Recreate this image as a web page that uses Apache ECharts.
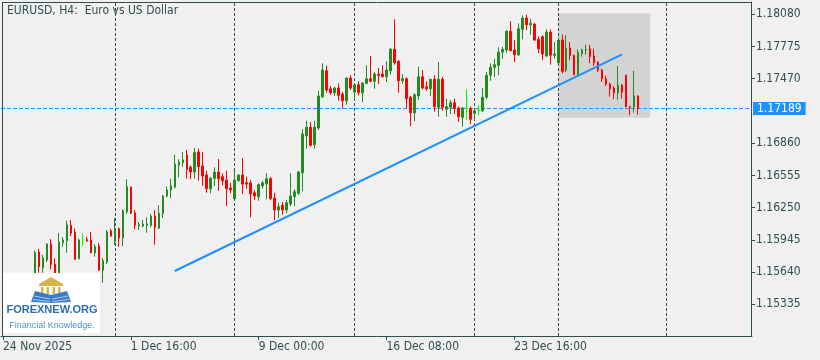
<!DOCTYPE html>
<html><head><meta charset="utf-8">
<script src="https://cdn.jsdelivr.net/npm/echarts@6/dist/echarts.min.js"></script>
<style>html,body{margin:0;padding:0;background:#f0f0f0}#c{width:820px;height:360px}</style>
</head><body><div id="c"></div>
<script>
// EURUSD H4 candles (one entry per bar, oldest first)
const openP = [
1.15224,1.15281,1.15376,1.15319,1.15451,1.15518,1.15461,1.15546,1.15565,1.15830,
1.15678,1.15754,1.15905,1.15716,1.15612,1.15917,1.15936,1.16083,1.16019,1.15767,
1.15943,1.15948,1.15943,1.15823,1.15886,1.15659,1.15735,1.16031,1.15927,1.16051,
1.15962,1.16211,1.16445,1.16201,1.16076,1.16076,1.16083,1.16083,1.16170,1.16057,
1.16196,1.16360,1.16417,1.16443,1.16651,1.16675,1.16746,1.16632,1.16587,1.16777,
1.16644,1.16559,1.16429,1.16527,1.16587,1.16543,1.16511,1.16436,1.16335,1.16504,
1.16559,1.16485,1.16485,1.16391,1.16354,1.16455,1.16473,1.16524,1.16341,1.16227,
1.16272,1.16227,1.16284,1.16354,1.16385,1.16580,1.16928,1.17011,1.16846,1.17004,
1.17300,1.17545,1.17375,1.17337,1.17382,1.17325,1.17262,1.17477,1.17344,1.17413,
1.17337,1.17427,1.17470,1.17446,1.17514,1.17514,1.17489,1.17545,1.17749,1.17635,
1.17451,1.17470,1.17295,1.17148,1.17307,1.17489,1.17394,1.17375,1.17465,1.17200,
1.17465,1.17181,1.17200,1.17243,1.17193,1.17104,1.17190,1.17190,1.17143,1.17174,
1.17167,1.17295,1.17503,1.17578,1.17597,1.17723,1.17742,1.17919,1.17742,1.17697,
1.17938,1.18045,1.17981,1.17988,1.17843,1.17868,1.17685,1.17912,1.17692,1.17621,
1.17836,1.17552,1.17761,1.17692,1.17514,1.17710,1.17742,1.17754,1.17685,1.17628,
1.17552,1.17470,1.17420,1.17382,1.17337,1.17408,1.17503,1.17206,1.17206,1.17307];
const highP = [
1.15300,1.15404,1.15414,1.15470,1.15546,1.15537,1.15574,1.15603,1.15842,1.15861,
1.15802,1.15912,1.15952,1.15770,1.16010,1.15971,1.16126,1.16133,1.16054,1.15955,
1.16007,1.15974,1.16019,1.15905,1.15912,1.15773,1.16038,1.16051,1.16151,1.16064,
1.16234,1.16518,1.16448,1.16227,1.16114,1.16133,1.16158,1.16189,1.16227,1.16272,
1.16367,1.16448,1.16523,1.16751,1.16708,1.16777,1.16796,1.16651,1.16815,1.16808,
1.16777,1.16599,1.16540,1.16632,1.16710,1.16575,1.16599,1.16485,1.16599,1.16562,
1.16720,1.16543,1.16511,1.16417,1.16480,1.16504,1.16575,1.16540,1.16391,1.16296,
1.16303,1.16322,1.16575,1.16424,1.16599,1.16992,1.17072,1.17060,1.17072,1.17356,
1.17616,1.17593,1.17401,1.17394,1.17427,1.17344,1.17484,1.17503,1.17427,1.17446,
1.17439,1.17597,1.17685,1.17533,1.17571,1.17597,1.17635,1.17761,1.18033,1.17647,
1.17514,1.17484,1.17307,1.17332,1.17584,1.17552,1.17446,1.17470,1.17503,1.17628,
1.17487,1.17281,1.17269,1.17281,1.17206,1.17200,1.17370,1.17206,1.17186,1.17219,
1.17382,1.17533,1.17616,1.17659,1.17767,1.17773,1.17931,1.18014,1.17836,1.17994,
1.18070,1.18076,1.18038,1.17994,1.17868,1.17881,1.17938,1.17938,1.17817,1.17862,
1.17887,1.17881,1.17817,1.17697,1.17749,1.17754,1.17792,1.17792,1.17754,1.17635,
1.17565,1.17496,1.17433,1.17401,1.17590,1.17420,1.17508,1.17212,1.17545,1.17312];
const lowP = [
1.15205,1.15262,1.15291,1.15300,1.15423,1.15432,1.15442,1.15508,1.15537,1.15633,
1.15633,1.15735,1.15666,1.15565,1.15584,1.15880,1.15823,1.15981,1.15754,1.15761,
1.15886,1.15924,1.15818,1.15786,1.15652,1.15537,1.15716,1.15974,1.15896,1.15880,
1.15886,1.16189,1.16189,1.16045,1.16038,1.16064,1.16012,1.16064,1.15898,1.16048,
1.16151,1.16348,1.16341,1.16433,1.16537,1.16637,1.16524,1.16518,1.16524,1.16504,
1.16455,1.16391,1.16385,1.16455,1.16410,1.16461,1.16265,1.16385,1.16329,1.16499,
1.16379,1.16429,1.16158,1.16322,1.16315,1.16429,1.16329,1.16322,1.16133,1.16151,
1.16183,1.16196,1.16265,1.16265,1.16372,1.16405,1.16808,1.16827,1.16808,1.16985,
1.17288,1.17337,1.17316,1.17307,1.17262,1.17186,1.17224,1.17363,1.17262,1.17313,
1.17250,1.17420,1.17439,1.17375,1.17420,1.17484,1.17439,1.17508,1.17603,1.17337,
1.17420,1.17193,1.17022,1.17067,1.17269,1.17370,1.17356,1.17307,1.17158,1.17110,
1.17167,1.17110,1.17136,1.17136,1.17060,1.17016,1.17079,1.17041,1.17079,1.17124,
1.17155,1.17276,1.17451,1.17484,1.17503,1.17659,1.17716,1.17729,1.17628,1.17685,
1.17843,1.17931,1.17887,1.17830,1.17711,1.17647,1.17679,1.17603,1.17660,1.17616,
1.17521,1.17533,1.17647,1.17503,1.17503,1.17679,1.17698,1.17616,1.17590,1.17533,
1.17439,1.17401,1.17300,1.17276,1.17269,1.17281,1.17200,1.17124,1.17148,1.17130];
const closeP = [
1.15281,1.15376,1.15319,1.15451,1.15518,1.15461,1.15546,1.15574,1.15823,1.15691,
1.15773,1.15905,1.15710,1.15603,1.15924,1.15943,1.16086,1.16007,1.15761,1.15943,
1.15943,1.15936,1.15823,1.15880,1.15659,1.15747,1.16019,1.15981,1.16045,1.15962,
1.16220,1.16448,1.16196,1.16083,1.16088,1.16095,1.16095,1.16170,1.16064,1.16196,
1.16360,1.16417,1.16455,1.16663,1.16682,1.16701,1.16613,1.16587,1.16770,1.16637,
1.16549,1.16429,1.16527,1.16587,1.16524,1.16504,1.16429,1.16417,1.16511,1.16559,
1.16473,1.16473,1.16379,1.16360,1.16467,1.16485,1.16524,1.16335,1.16227,1.16259,
1.16227,1.16296,1.16360,1.16401,1.16587,1.16947,1.17011,1.16840,1.17011,1.17307,
1.17552,1.17363,1.17337,1.17382,1.17313,1.17262,1.17477,1.17382,1.17413,1.17337,
1.17427,1.17470,1.17446,1.17514,1.17503,1.17489,1.17552,1.17749,1.17621,1.17451,
1.17470,1.17281,1.17148,1.17318,1.17489,1.17382,1.17375,1.17465,1.17206,1.17465,
1.17200,1.17206,1.17243,1.17190,1.17110,1.17193,1.17190,1.17086,1.17167,1.17174,
1.17295,1.17503,1.17578,1.17603,1.17723,1.17749,1.17919,1.17735,1.17697,1.17943,
1.18045,1.17981,1.17994,1.17836,1.17754,1.17704,1.17912,1.17692,1.17704,1.17836,
1.17540,1.17761,1.17692,1.17508,1.17716,1.17742,1.17749,1.17679,1.17622,1.17552,
1.17470,1.17420,1.17375,1.17337,1.17408,1.17344,1.17206,1.17200,1.17307,1.17189];

const slotCount = 188;                 // bar slots incl. right-side shift
const xTickIdx = [0, 32, 64, 96, 128];
const xTickLabels = ['24 Nov 2025', '1 Dec 16:00', '9 Dec 00:00', '16 Dec 08:00', '23 Dec 16:00'];
const yTickValues = [1.15335, 1.15640, 1.15945, 1.16250, 1.16555, 1.16860, 1.17470, 1.17775, 1.18080];
const gridLineIdx = [28, 58, 88, 118, 139, 166];
const currentPrice = 1.17189;
const trendIdx = [43, 155];
const trendVal = [1.15650, 1.17701];
const boxIdx = [139, 162];
const boxVal = [1.18089, 1.17101];
const yMin = 1.150348, yMax = 1.181965;
const titleText = 'EURUSD, H4:  Euro vs US Dollar';

const FONT = "'DejaVu Sans Condensed', 'Liberation Sans', sans-serif";
const AX = '#2f4f4f';
const cats = Array.from({length: slotCount}, (_, i) => String(i));
const ohlc = openP.map((o, i) => [o, closeP[i], lowP[i], highP[i]]);

const chart = echarts.init(document.getElementById('c'), null, {renderer: 'canvas'});
const gold = '#d8b24a', bookBlue = '#3a7bc4', light = '#a9cbee';
chart.setOption({
  animation: false,
  backgroundColor: '#f0f0f0',
  title: {text: titleText, left: 7, top: 5, padding: 0,
    textStyle: {fontSize: 12, fontWeight: 'normal', color: AX, fontFamily: FONT}},
  grid: {left: 0, right: 68, top: 2, bottom: 24, containLabel: false},
  xAxis: {
    type: 'category', data: cats, boundaryGap: true,
    axisLine: {show: true, lineStyle: {color: AX, width: 1}},
    axisTick: {show: true, alignWithLabel: true, length: 4,
      interval: (i) => xTickIdx.includes(i), lineStyle: {color: AX}},
    axisLabel: {interval: (i) => xTickIdx.includes(i),
      formatter: (v, i) => { const j = xTickIdx.indexOf(Number(v)); return j >= 0 ? xTickLabels[j] : ''; },
      align: 'left', color: AX, fontSize: 12, fontFamily: FONT, margin: 5},
    splitLine: {show: false}
  },
  yAxis: {
    type: 'value', position: 'right', min: yMin, max: yMax, offset: -1,
    axisLine: {show: true, lineStyle: {color: AX, width: 1}},
    axisTick: {show: true, customValues: yTickValues, length: 4, lineStyle: {color: AX}},
    axisLabel: {show: true, customValues: yTickValues, formatter: (v) => v.toFixed(5),
      color: AX, fontSize: 12, fontFamily: FONT, margin: 5},
    splitLine: {show: false}
  },
  series: [
    {
      type: 'candlestick', data: ohlc, barWidth: 2, z: 10, silent: true,
      itemStyle: {color: '#228b22', color0: '#ff0000', borderColor: '#228b22',
        borderColor0: '#ff0000', borderColorDoji: '#00ff00', borderWidth: 1},
      markArea: {silent: true, itemStyle: {color: '#d3d3d3'},
        data: [[{xAxis: boxIdx[0], yAxis: boxVal[0]}, {xAxis: boxIdx[1], yAxis: boxVal[1]}]]},
      markLine: {silent: true, symbol: ['none', 'none'], animation: false, precision: 5,
        data: gridLineIdx.map(i => ({xAxis: i, lineStyle: {color: AX, type: [3, 2], width: 1}, label: {show: false}}))
          .concat([{yAxis: currentPrice, lineStyle: {color: '#1e90ff', type: [4, 2], width: 1},
            label: {show: true, position: 'end', distance: 1, formatter: currentPrice.toFixed(5),
              color: '#ffffff', backgroundColor: '#1e90ff', padding: [1, 4, 0, 4],
              fontSize: 12, fontFamily: FONT}}])}
    },
    {
      type: 'line', z: 12, silent: true, symbol: 'none', showSymbol: false,
      data: [[trendIdx[0], trendVal[0]], [trendIdx[1], trendVal[1]]],
      lineStyle: {color: '#1e90ff', width: 2}
    }
  ],
  graphic: [
    {type: 'line', silent: true, z: 50, shape: {x1: 2.5, y1: 2, x2: 2.5, y2: 336}, style: {stroke: AX, lineWidth: 1}},
    {type: 'line', silent: true, z: 50, shape: {x1: 2, y1: 2.5, x2: 751, y2: 2.5}, style: {stroke: AX, lineWidth: 1}},
    {type: 'rect', silent: true, z: 60, shape: {x: 3, y: 273, width: 97, height: 60}, style: {fill: '#ffffff'}},
    {type: 'polygon', silent: true, z: 61, shape: {points: [[39, 284], [51, 277], [63, 284]]}, style: {fill: gold}},
    {type: 'rect', silent: true, z: 61, shape: {x: 39, y: 284, width: 24, height: 2}, style: {fill: gold}},
    {type: 'rect', silent: true, z: 61, shape: {x: 41, y: 287, width: 2.5, height: 7}, style: {fill: gold}},
    {type: 'rect', silent: true, z: 61, shape: {x: 46.5, y: 287, width: 2.5, height: 7}, style: {fill: gold}},
    {type: 'rect', silent: true, z: 61, shape: {x: 52.5, y: 287, width: 2.5, height: 7}, style: {fill: gold}},
    {type: 'rect', silent: true, z: 61, shape: {x: 58, y: 287, width: 2.5, height: 7}, style: {fill: gold}},
    {type: 'polygon', silent: true, z: 61, shape: {points: [[31, 302], [35, 291], [51, 295], [51, 303]]}, style: {fill: bookBlue}},
    {type: 'polygon', silent: true, z: 61, shape: {points: [[51, 303], [51, 295], [67, 291], [71, 302]]}, style: {fill: bookBlue}},
    {type: 'polyline', silent: true, z: 62, shape: {points: [[34, 296], [50, 299]]}, style: {stroke: light, lineWidth: 1}},
    {type: 'polyline', silent: true, z: 62, shape: {points: [[52, 299], [68, 296]]}, style: {stroke: light, lineWidth: 1}},
    {type: 'polyline', silent: true, z: 62, shape: {points: [[33, 299.5], [50, 301.5]]}, style: {stroke: light, lineWidth: 1}},
    {type: 'polyline', silent: true, z: 62, shape: {points: [[52, 301.5], [69, 299.5]]}, style: {stroke: light, lineWidth: 1}},
    {type: 'text', silent: true, z: 62, x: 52, y: 310,
      style: {text: 'FOREXNEW.ORG', font: "bold 11px 'Liberation Sans', sans-serif", fill: '#2c6db3',
        align: 'center', verticalAlign: 'middle', textAlign: 'center', textVerticalAlign: 'middle'}},
    {type: 'text', silent: true, z: 62, x: 52, y: 326,
      style: {text: 'Financial Knowledge.', font: "9px 'Liberation Sans', sans-serif", fill: '#4a8fd0',
        align: 'center', verticalAlign: 'middle', textAlign: 'center', textVerticalAlign: 'middle'}}
  ]
});
</script></body></html>
